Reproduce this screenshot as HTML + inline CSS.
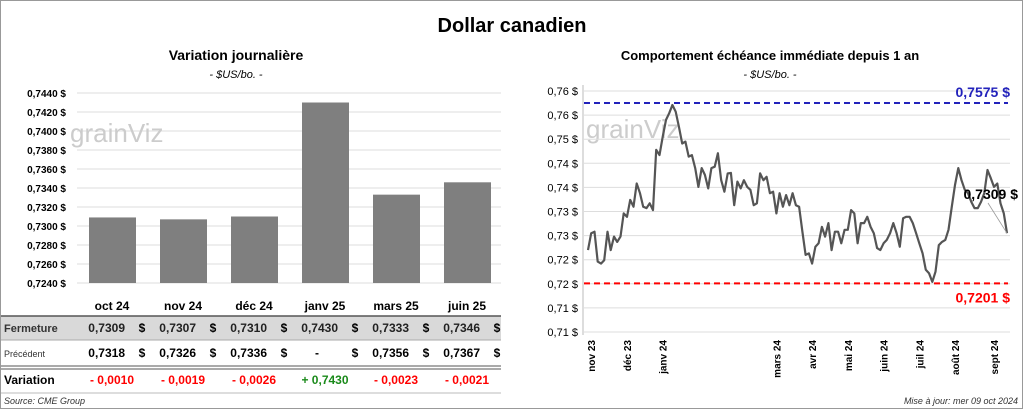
<!DOCTYPE html>
<html><head><meta charset="utf-8"><style>
body{margin:0;width:1024px;height:410px;overflow:hidden;background:#fff;font-family:"Liberation Sans",sans-serif}
svg text{font-family:"Liberation Sans",sans-serif}
</style></head><body>
<svg id="c" width="1024" height="410" xmlns="http://www.w3.org/2000/svg">
<rect x="0.5" y="0.5" width="1022" height="408" fill="#fff" stroke="#999"/>
<text x="512" y="32" text-anchor="middle" font-size="20" font-weight="bold">Dollar canadien</text>
<text x="236" y="60" text-anchor="middle" font-size="14" font-weight="bold">Variation  journalière</text>
<text x="236" y="78" text-anchor="middle" font-size="11" font-style="italic">- $US/bo. -</text>
<text x="770" y="60" text-anchor="middle" font-size="13" font-weight="bold">Comportement échéance immédiate depuis 1 an</text>
<text x="770" y="78" text-anchor="middle" font-size="11" font-style="italic">- $US/bo. -</text>
<g id="left"></g>
<g id="right"></g>
<g id="table"></g>
<text x="4" y="404" font-size="9" font-style="italic" fill="#333">Source: CME Group</text>
<text x="1018" y="404" text-anchor="end" font-size="9" font-style="italic" fill="#333">Mise à jour: mer 09 oct 2024</text>
</svg>
<script>
const months=["oct 24","nov 24","déc 24","janv 25","mars 25","juin 25"];
const closes=[0.7309,0.7307,0.7310,0.7430,0.7333,0.7346];
const prevs=["0,7318","0,7326","0,7336","-","0,7356","0,7367"];
const varTxt=["- 0,0010","- 0,0019","- 0,0026","+ 0,7430","- 0,0023","- 0,0021"];
const leftTicks=[0.7240,0.7260,0.7280,0.7300,0.7320,0.7340,0.7360,0.7380,0.7400,0.7420,0.7440];
const rightTicks=[0.710,0.715,0.720,0.725,0.730,0.735,0.740,0.745,0.750,0.755,0.760];
const prices=[0.7270,0.7305,0.7308,0.7246,0.7242,0.7249,0.7308,0.7270,0.7298,0.7287,0.7298,0.7346,0.7339,0.7374,0.7360,0.7408,0.7388,0.7360,0.7357,0.7367,0.7353,0.7478,0.7467,0.7505,0.7540,0.7554,0.7571,0.7557,0.7526,0.7491,0.7495,0.7464,0.7467,0.7440,0.7401,0.7440,0.7426,0.7398,0.7440,0.7443,0.7471,0.7415,0.7391,0.7429,0.7430,0.7363,0.7412,0.7398,0.7415,0.7401,0.7395,0.7363,0.7367,0.7429,0.7415,0.7422,0.7388,0.7391,0.7346,0.7388,0.7360,0.7384,0.7363,0.7388,0.7363,0.7360,0.7308,0.7260,0.7263,0.7242,0.7277,0.7284,0.7318,0.7298,0.7326,0.7270,0.7308,0.7308,0.7284,0.7312,0.7312,0.7353,0.7346,0.7284,0.7326,0.7326,0.7339,0.7318,0.7305,0.7274,0.7270,0.7284,0.7291,0.7305,0.7326,0.7305,0.7277,0.7336,0.7339,0.7339,0.7326,0.7305,0.7284,0.7263,0.7229,0.7222,0.7204,0.7225,0.7280,0.7287,0.7291,0.7312,0.7360,0.7405,0.7440,0.7415,0.7395,0.7388,0.7370,0.7357,0.7357,0.7370,0.7388,0.7436,0.7419,0.7401,0.7408,0.7367,0.7346,0.7305];
const xMonths=["nov 23","déc 23","janv 24","mars 24","avr 24","mai 24","juin 24","juil 24","août 24","sept 24"];
const xMonthIdx=[1,12,23,58,69,80,91,102,113,125];
const maxVal=0.7575, minVal=0.7201;
const NS="http://www.w3.org/2000/svg";
function mk(p,t,a,txt){const e=document.createElementNS(NS,t);for(const k in a)e.setAttribute(k,a[k]);if(txt!==undefined)e.textContent=txt;p.appendChild(e);return e;}
const fmt=v=>v.toFixed(4).replace('.',',');
// left
const L=document.getElementById('left');
const ly=v=>283-(v-0.7240)/0.0200*190;
const lx0=77,cw=71;
leftTicks.forEach(t=>{
 let g=mk(L,'line',{x1:lx0,x2:501,y1:ly(t),y2:ly(t),stroke:'#ddd'});
 
 let tx=mk(L,'text',{x:66,y:ly(t)+4,'text-anchor':'end','font-size':10,'font-weight':'bold'},fmt(t)+' $');
 
});
mk(L,'text',{x:70,y:142,'font-size':26,fill:'#ccc'},'grainViz');
mk(L,'text',{x:586,y:138,'font-size':26,fill:'#ccc'},'grainViz');
closes.forEach((v,i)=>{
 let r=mk(L,'rect',{x:lx0+12+i*cw,y:ly(v),width:47,height:283-ly(v),fill:'#7f7f7f'});
 
});
// table
const T=document.getElementById('table');
let bg=mk(T,'rect',{x:1,y:316,width:500,height:24,fill:'#d9d9d9'});

mk(T,'line',{x1:1,x2:501,y1:316,y2:316,stroke:'#555','stroke-width':1.5});
mk(T,'line',{x1:1,x2:501,y1:340,y2:340,stroke:'#aaa'});
mk(T,'line',{x1:1,x2:501,y1:366,y2:366,stroke:'#555','stroke-width':1});
mk(T,'line',{x1:1,x2:501,y1:369,y2:369,stroke:'#555','stroke-width':1});
mk(T,'line',{x1:1,x2:501,y1:393,y2:393,stroke:'#bbb'});
mk(T,'text',{x:4,y:332,'font-size':11,'font-weight':'bold',fill:'#333'},'Fermeture');
mk(T,'text',{x:4,y:357,'font-size':9,fill:'#333'},'Précédent');
mk(T,'text',{x:4,y:384,'font-size':12,'font-weight':'bold'},'Variation');
months.forEach((m,i)=>{
 const cx=lx0+35+i*cw;
 let h=mk(T,'text',{x:cx,y:310,'text-anchor':'middle','font-size':12,'font-weight':'bold'},m);
 
 mk(T,'text',{x:cx+13,y:332,'text-anchor':'end','font-size':12,'font-weight':'bold',fill:'#222'},fmt(closes[i]));
 mk(T,'text',{x:cx+30,y:332,'text-anchor':'middle','font-size':12,'font-weight':'bold'},'$');
 mk(T,'text',{x:cx+(prevs[i]=='-'?-6:13),y:357,'text-anchor':'end','font-size':12,'font-weight':'bold'},prevs[i]);
 mk(T,'text',{x:cx+30,y:357,'text-anchor':'middle','font-size':12,'font-weight':'bold'},'$');
 let vv=mk(T,'text',{x:cx,y:384,'text-anchor':'middle','font-size':12,'font-weight':'bold',fill:varTxt[i][0]=='+'?'#1a8a1a':'#f00'},varTxt[i]);
 
});
// right
const R=document.getElementById('right');
const ry=v=>332-(v-0.710)/0.050*241;
const rx0=588,rx1=1007;
const rx=i=>rx0+i*(rx1-rx0)/(prices.length-1);
mk(R,'line',{x1:583,x2:583,y1:85,y2:335,stroke:'#bbb'});
rightTicks.forEach(t=>{
 let g=mk(R,'line',{x1:584,x2:1010,y1:ry(t),y2:ry(t),stroke:'#ddd'});
 
 let tx=mk(R,'text',{x:578,y:ry(t)+4,'text-anchor':'end','font-size':11},t.toFixed(2).replace('.',',')+' $');
 
});
xMonths.forEach((m,k)=>{
 const x=rx(xMonthIdx[k]);
 let t=mk(R,'text',{x:0,y:0,transform:`translate(${x+4},340) rotate(-90)`,'text-anchor':'end','font-size':10,'font-weight':'bold'},m);
 
});
let hi=mk(R,'line',{x1:584,x2:1008,y1:ry(maxVal),y2:ry(maxVal),stroke:'#2222bb','stroke-width':2,'stroke-dasharray':'6,4'});

let lo=mk(R,'line',{x1:584,x2:1008,y1:ry(minVal),y2:ry(minVal),stroke:'#f00','stroke-width':2,'stroke-dasharray':'6,4'});

mk(R,'text',{x:1010,y:ry(maxVal)-6,'text-anchor':'end','font-size':14,'font-weight':'bold',fill:'#2222bb'},fmt(maxVal)+' $');
mk(R,'text',{x:1010,y:ry(minVal)+19,'text-anchor':'end','font-size':14,'font-weight':'bold',fill:'#f00'},fmt(minVal)+' $');
let d=prices.map((p,i)=>(i?'L':'M')+rx(i).toFixed(1)+','+ry(p).toFixed(1)).join('');
let pl=mk(R,'path',{d:d,fill:'none',stroke:'#555','stroke-width':2.2,'stroke-linejoin':'round'});

const last=prices[prices.length-1];
mk(R,'line',{x1:988,y1:203,x2:rx(prices.length-1),y2:ry(last),stroke:'#999','stroke-width':0.8});
let lab=mk(R,'text',{x:1018,y:199,'text-anchor':'end','font-size':14,'font-weight':'bold'},'0,7309 $');

</script>
</body></html>
